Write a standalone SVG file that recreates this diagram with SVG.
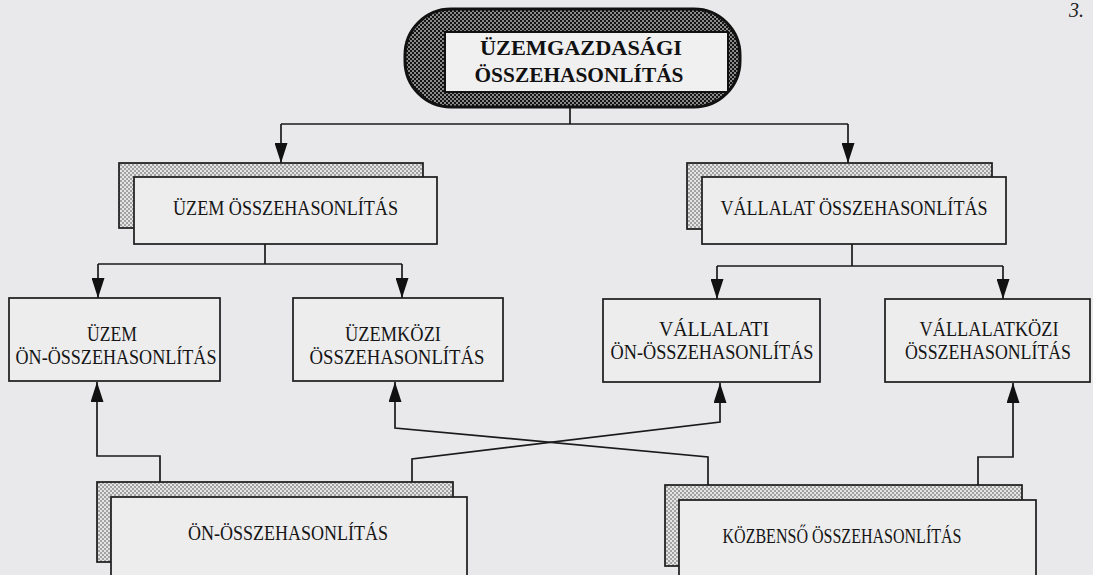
<svg xmlns="http://www.w3.org/2000/svg" width="1093" height="575" viewBox="0 0 1093 575">
<defs>
<pattern id="dark" width="4" height="4" patternUnits="userSpaceOnUse">
<rect width="4" height="4" fill="#8a8a8a"/>
<rect width="2" height="2" fill="#141414"/>
<rect x="2" y="2" width="2" height="2" fill="#141414"/>
</pattern>
<pattern id="light" width="4" height="4" patternUnits="userSpaceOnUse">
<rect width="4" height="4" fill="#e4e4e4"/>
<rect width="2" height="2" fill="#a2a2a2"/>
<rect x="2" y="2" width="2" height="2" fill="#a2a2a2"/>
</pattern>
<marker id="ah" markerUnits="userSpaceOnUse" markerWidth="20" markerHeight="13" refX="20" refY="6.5" orient="auto" viewBox="0 0 20 13">
<path d="M0,0 L20,6.5 L0,13 z" fill="#111"/>
</marker>
</defs>
<style>
.box{fill:#ededee;stroke:#1a1a1a;stroke-width:1.7}
.shadow{fill:url(#light);stroke:#1a1a1a;stroke-width:1.7}
.t{font-family:"Liberation Serif","Times New Roman",serif;font-size:20px;fill:#151515;text-anchor:middle}
.tb{font-family:"Liberation Serif","Times New Roman",serif;font-size:21px;font-weight:bold;fill:#111;text-anchor:middle}
.ln{fill:none;stroke:#1a1a1a;stroke-width:1.7}
.arr{fill:none;stroke:#1a1a1a;stroke-width:1.7;marker-end:url(#ah)}
</style>
<rect width="1093" height="575" fill="#e9e9eb"/>
<text x="1069" y="17" font-family="Liberation Serif, serif" font-style="italic" font-size="20" fill="#222">3.</text>

<g id="connectors">
<path class="ln" d="M570,107 V124"/>
<path class="ln" d="M281,124 H848"/>
<path class="arr" d="M281,124 V163"/>
<path class="arr" d="M848,124 V163"/>
<path class="ln" d="M265,244 V264 M98,264 H402"/>
<path class="arr" d="M98,264 V298"/>
<path class="arr" d="M402,264 V298"/>
<path class="ln" d="M852,244 V266 M717,266 H1003"/>
<path class="arr" d="M717,266 V299"/>
<path class="arr" d="M1003,266 V299"/>
<path class="arr" d="M160,482 V456 H97 V382"/>
<path class="arr" d="M412,482 V459 L720,422 V383"/>
<path class="arr" d="M708,485 V457 L395,428 V382"/>
<path class="arr" d="M978,485 V457 H1013 V383"/>
</g>

<g id="node-uzemgazdasagi">
<rect x="405" y="9" width="335" height="98" rx="46" ry="46" fill="url(#dark)" stroke="#111" stroke-width="3"/>
<rect x="445" y="32" width="283" height="60" fill="#f0f0f1" stroke="#111" stroke-width="2"/>
<text class="tb" x="581" y="55" textLength="202" lengthAdjust="spacingAndGlyphs">ÜZEMGAZDASÁGI</text>
<text class="tb" x="579" y="82" textLength="209" lengthAdjust="spacingAndGlyphs">ÖSSZEHASONLÍTÁS</text>
</g>

<g id="node-uzem-osszehasonlitas">
<rect class="shadow" x="119" y="163" width="304" height="65"/>
<rect class="box" x="134" y="177" width="303" height="67"/>
<text class="t" x="285.5" y="215" textLength="225" lengthAdjust="spacingAndGlyphs">ÜZEM ÖSSZEHASONLÍTÁS</text>
</g>

<g id="node-vallalat-osszehasonlitas">
<rect class="shadow" x="687" y="163" width="305" height="66"/>
<rect class="box" x="702" y="177" width="304" height="67"/>
<text class="t" x="854" y="215" textLength="267" lengthAdjust="spacingAndGlyphs">VÁLLALAT ÖSSZEHASONLÍTÁS</text>
</g>

<g id="node-uzem-on">
<rect class="box" x="9" y="298" width="211" height="83"/>
<text class="t" x="112" y="341" textLength="50" lengthAdjust="spacingAndGlyphs">ÜZEM</text>
<text class="t" x="116" y="364" textLength="201" lengthAdjust="spacingAndGlyphs">ÖN-ÖSSZEHASONLÍTÁS</text>
</g>

<g id="node-uzemkozi">
<rect class="box" x="293" y="298" width="210" height="83"/>
<text class="t" x="393" y="341" textLength="96" lengthAdjust="spacingAndGlyphs">ÜZEMKÖZI</text>
<text class="t" x="397" y="364" textLength="175" lengthAdjust="spacingAndGlyphs">ÖSSZEHASONLÍTÁS</text>
</g>

<g id="node-vallalati-on">
<rect class="box" x="603" y="299" width="217" height="83"/>
<text class="t" x="714" y="336" textLength="110" lengthAdjust="spacingAndGlyphs">VÁLLALATI</text>
<text class="t" x="712" y="359" textLength="203" lengthAdjust="spacingAndGlyphs">ÖN-ÖSSZEHASONLÍTÁS</text>
</g>

<g id="node-vallalatkozi">
<rect class="box" x="885" y="299" width="205" height="83"/>
<text class="t" x="989" y="336" textLength="139" lengthAdjust="spacingAndGlyphs">VÁLLALATKÖZI</text>
<text class="t" x="988" y="359" textLength="166" lengthAdjust="spacingAndGlyphs">ÖSSZEHASONLÍTÁS</text>
</g>

<g id="node-on-osszehasonlitas">
<rect class="shadow" x="97" y="482" width="356" height="80"/>
<rect class="box" x="111" y="497" width="356" height="100"/>
<text class="t" x="288" y="540" textLength="200" lengthAdjust="spacingAndGlyphs">ÖN-ÖSSZEHASONLÍTÁS</text>
</g>

<g id="node-kozbenso">
<rect class="shadow" x="665" y="485" width="357" height="81"/>
<rect class="box" x="679" y="500" width="357" height="100"/>
<text class="t" x="842" y="543" textLength="239" lengthAdjust="spacingAndGlyphs">KÖZBENSŐ ÖSSZEHASONLÍTÁS</text>
</g>
</svg>
